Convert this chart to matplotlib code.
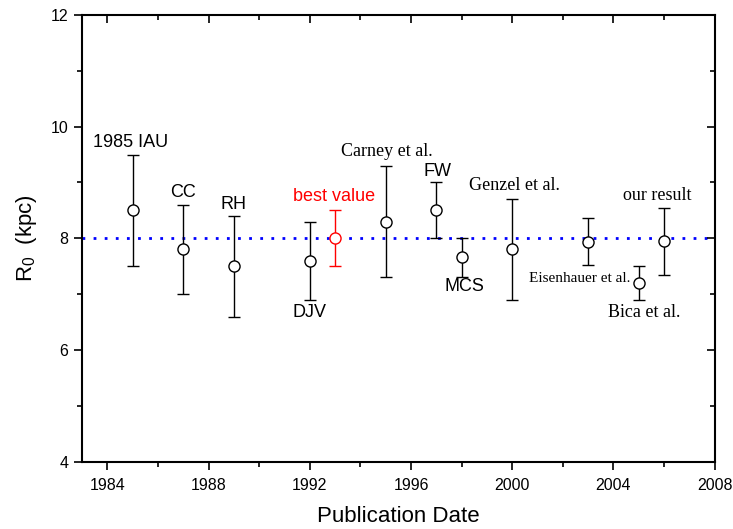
import matplotlib
matplotlib.use("Agg")
import matplotlib.pyplot as plt
from matplotlib.ticker import MultipleLocator

# published R0 values (kpc) with symmetric errors
years = [1985, 1987, 1989, 1992, 1995, 1997, 1998, 2000, 2003, 2005, 2006]
r0 = [8.5, 7.8, 7.5, 7.6, 8.3, 8.5, 7.66, 7.8, 7.94, 7.2, 7.95]
r0_err = [1.0, 0.8, 0.9, 0.7, 1.0, 0.5, 0.35, 0.9, 0.42, 0.3, 0.6]

# "best value" point shown in red
best_year = 1993
best_r0 = 8.0
best_err = 0.5

ref_value = 8.0

# labels: text, x, y, font family, size, colour
lab_text = ["1985 IAU", "CC", "RH", "best value", "DJV", "Carney et al.", "FW",
            "MCS", "Genzel et al.", "Eisenhauer et al.", "Bica et al.", "our result"]
lab_x = [1984.9, 1987.0, 1989.0, 1992.95, 1992.0, 1995.05, 1997.05,
         1998.1, 2000.1, 2002.65, 2005.2, 2005.75]
lab_y = [9.72, 8.82, 8.61, 8.74, 6.68, 9.55, 9.2, 7.13, 8.94, 7.28, 6.67, 8.77]
lab_serif = [False, False, False, False, False, True, False, False, True, True, True, True]
lab_size = [13, 13, 13, 13, 13, 13, 13, 13, 13, 11, 13, 13]
lab_color = ["black", "black", "black", "red", "black", "black", "black",
             "black", "black", "black", "black", "black"]

sans = ["Liberation Sans", "DejaVu Sans"]
serif = ["Liberation Serif", "DejaVu Serif"]
plt.rcParams["font.family"] = sans
plt.rcParams["mathtext.fontset"] = "custom"
plt.rcParams["mathtext.rm"] = "Liberation Sans"
plt.rcParams["mathtext.it"] = "Liberation Sans"

fig = plt.figure(figsize=(7.33, 5.29), dpi=100)
ax = fig.add_axes([0.112, 0.127, 0.863, 0.845])

ax.set_xlim(1983, 2008)
ax.set_ylim(4, 12)

# reference line at 8 kpc
ax.plot([1983, 2008], [ref_value, ref_value], color="blue", lw=2,
        ls=(0, (1, 3)), zorder=1)

ax.errorbar(years, r0, yerr=r0_err, fmt="o", color="black", mfc="white",
            mec="black", ms=8, mew=1, elinewidth=1, capsize=4, capthick=1, zorder=3)
ax.errorbar([best_year], [best_r0], yerr=[best_err], fmt="o", color="red",
            mfc="white", mec="red", ms=8, mew=1, elinewidth=1, capsize=4,
            capthick=1, zorder=3)

for t, x, y, sf, s, c in zip(lab_text, lab_x, lab_y, lab_serif, lab_size, lab_color):
    ax.text(x, y, t, ha="center", va="center", fontsize=s, color=c,
            family=serif if sf else sans)

ax.xaxis.set_major_locator(MultipleLocator(4))
ax.xaxis.set_minor_locator(MultipleLocator(2))
ax.yaxis.set_major_locator(MultipleLocator(2))
ax.yaxis.set_minor_locator(MultipleLocator(1))

ax.tick_params(which="both", bottom=True, left=True, top=True, right=True,
               labelsize=11.5, width=1.2, direction="out")
ax.tick_params(which="major", length=6)
ax.tick_params(which="minor", length=3.5)
ax.tick_params(axis="x", which="both", pad=6)
ax.tick_params(axis="y", which="both", pad=4)
# outward ticks on left/bottom, inward on top/right
for tk in ax.xaxis.get_major_ticks() + ax.xaxis.get_minor_ticks():
    tk.tick2line.set_marker(3)  # top ticks point down
for tk in ax.yaxis.get_major_ticks() + ax.yaxis.get_minor_ticks():
    tk.tick2line.set_marker(0)  # right ticks point left

for sp in ax.spines.values():
    sp.set_linewidth(1.5)

ax.set_xlabel("Publication Date", fontsize=16, labelpad=9)
ax.set_ylabel(r"R$_0$  (kpc)", fontsize=16, labelpad=8)

fig.savefig("out.png", dpi=100)
